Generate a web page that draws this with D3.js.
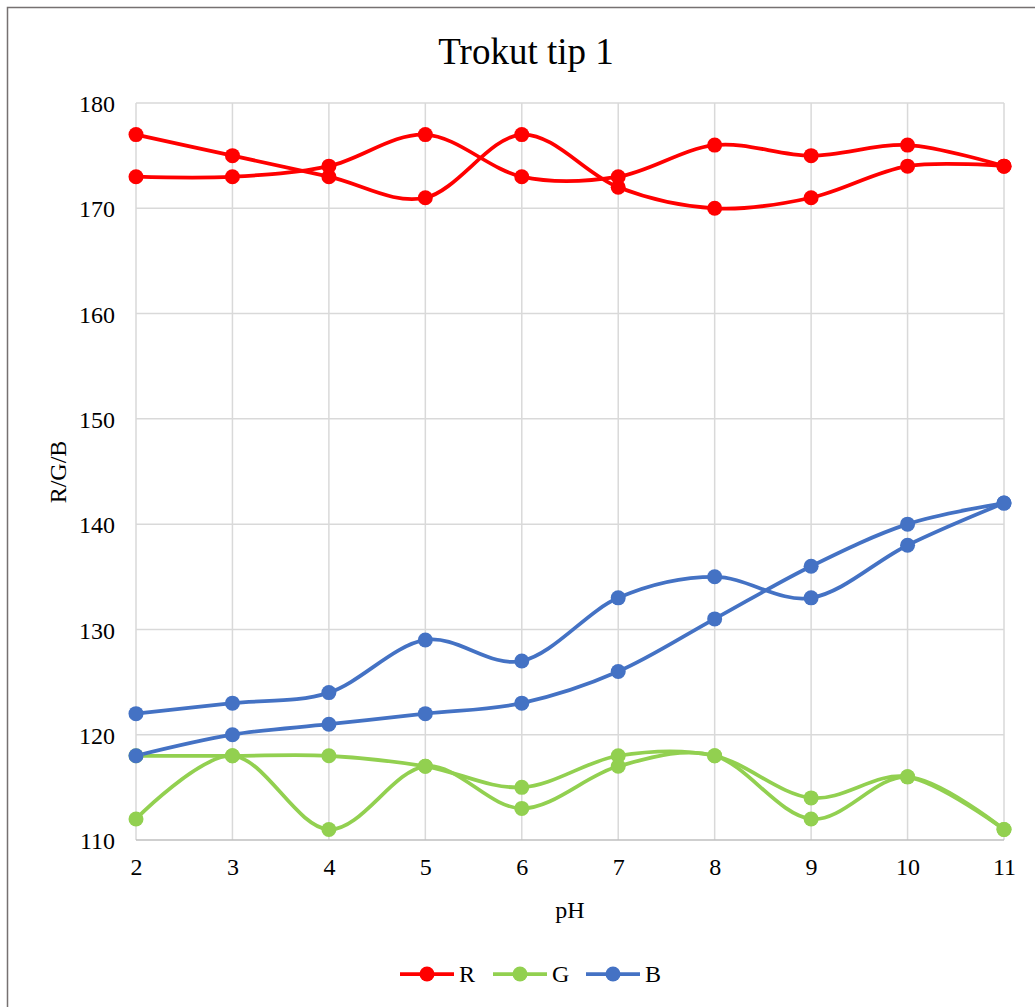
<!DOCTYPE html>
<html><head><meta charset="utf-8">
<script src="https://cdn.jsdelivr.net/npm/d3@7"></script>
<style>body{margin:0;background:#fff}svg{display:block}text{font-family:"Liberation Serif","Times New Roman",serif;fill:#000}</style>
</head><body>
<script>
const pH = [2,3,4,5,6,7,8,9,10,11];
const R1 = [177,175,173,171,177,172,170,171,174,174];
const R2 = [173,173,174,177,173,173,176,175,176,174];
const G1 = [118,118,118,117,115,118,118,114,116,111];
const G2 = [112,118,111,117,113,117,118,112,116,111];
const B1 = [122,123,124,129,127,133,135,133,138,142];
const B2 = [118,120,121,122,123,126,131,136,140,142];
const yTicks = [110,120,130,140,150,160,170,180];
const legendNames = ["R","G","B"];
const colors = {R:"#ff0000", G:"#92d050", B:"#4472c4"};

const W=1035,H=1007;
const svg=d3.select("body").append("svg").attr("width",W).attr("height",H);
svg.append("rect").attr("width",W).attr("height",H).attr("fill","#fff");
svg.append("path").attr("d","M7.5,1007 L7.5,7.5 L1035,7.5").attr("fill","none").attr("stroke","#767171").attr("stroke-width",1.5);

const x=d3.scaleLinear().domain([2,11]).range([136,1004]);
const y=d3.scaleLinear().domain([110,180]).range([840,103]);

svg.append("g").selectAll("line").data(yTicks.filter(d=>d>110)).join("line")
 .attr("x1",x(2)).attr("x2",x(11)).attr("y1",d=>y(d)).attr("y2",d=>y(d))
 .attr("stroke","#d9d9d9").attr("stroke-width",1.5);
svg.append("g").selectAll("line").data(pH).join("line")
 .attr("x1",d=>x(d)).attr("x2",d=>x(d)).attr("y1",y(110)).attr("y2",y(180))
 .attr("stroke","#d9d9d9").attr("stroke-width",1.5);
svg.append("line").attr("x1",x(2)).attr("x2",x(11)).attr("y1",y(110)).attr("y2",y(110))
 .attr("stroke","#bfbfbf").attr("stroke-width",1.5);

const FS="24px";
const yAxis=d3.axisLeft(y).tickValues(yTicks).tickSize(0).tickPadding(21);
const gy=svg.append("g").attr("transform",`translate(${x(2)},0)`).call(yAxis);
gy.select(".domain").remove();
gy.selectAll("text").style("font-size",FS).style("font-family","Liberation Serif").attr("dy","0.36em");
const xAxis=d3.axisBottom(x).tickValues(pH).tickFormat(d3.format("d")).tickSize(0).tickPadding(18);
const gx=svg.append("g").attr("transform",`translate(0,${y(110)})`).call(xAxis);
gx.select(".domain").remove();
gx.selectAll("text").style("font-size",FS).style("font-family","Liberation Serif");

const line=d3.line().x((d,i)=>x(pH[i])).y(d=>y(d)).curve(d3.curveCardinal.tension(0));
const series=[["R",R1],["R",R2],["G",G1],["G",G2],["B",B1],["B",B2]];
series.forEach(([k,vals])=>{
  svg.append("path").datum(vals).attr("d",line).attr("fill","none")
   .attr("stroke",colors[k]).attr("stroke-width",3.75).attr("stroke-linecap","round");
});
series.forEach(([k,vals])=>{
  svg.append("g").selectAll("circle").data(vals).join("circle")
   .attr("cx",(d,i)=>x(pH[i])).attr("cy",d=>y(d)).attr("r",7.5).attr("fill",colors[k]);
});

svg.append("text").attr("x",526).attr("y",64).attr("text-anchor","middle").style("font-size","37px").text("Trokut tip 1");
svg.append("text").attr("transform","translate(66,472) rotate(-90)").attr("text-anchor","middle").style("font-size",FS).text("R/G/B");
svg.append("text").attr("x",570).attr("y",918).attr("text-anchor","middle").style("font-size",FS).text("pH");

const lg=svg.append("g");
legendNames.forEach((n,i)=>{
  const x0=400+i*93;
  lg.append("line").attr("x1",x0).attr("x2",x0+54).attr("y1",974).attr("y2",974).attr("stroke",colors[n]).attr("stroke-width",3.75);
  lg.append("circle").attr("cx",x0+27).attr("cy",974).attr("r",7.5).attr("fill",colors[n]);
  lg.append("text").attr("x",x0+59).attr("y",982).style("font-size",FS).text(n);
});
</script>
</body></html>
